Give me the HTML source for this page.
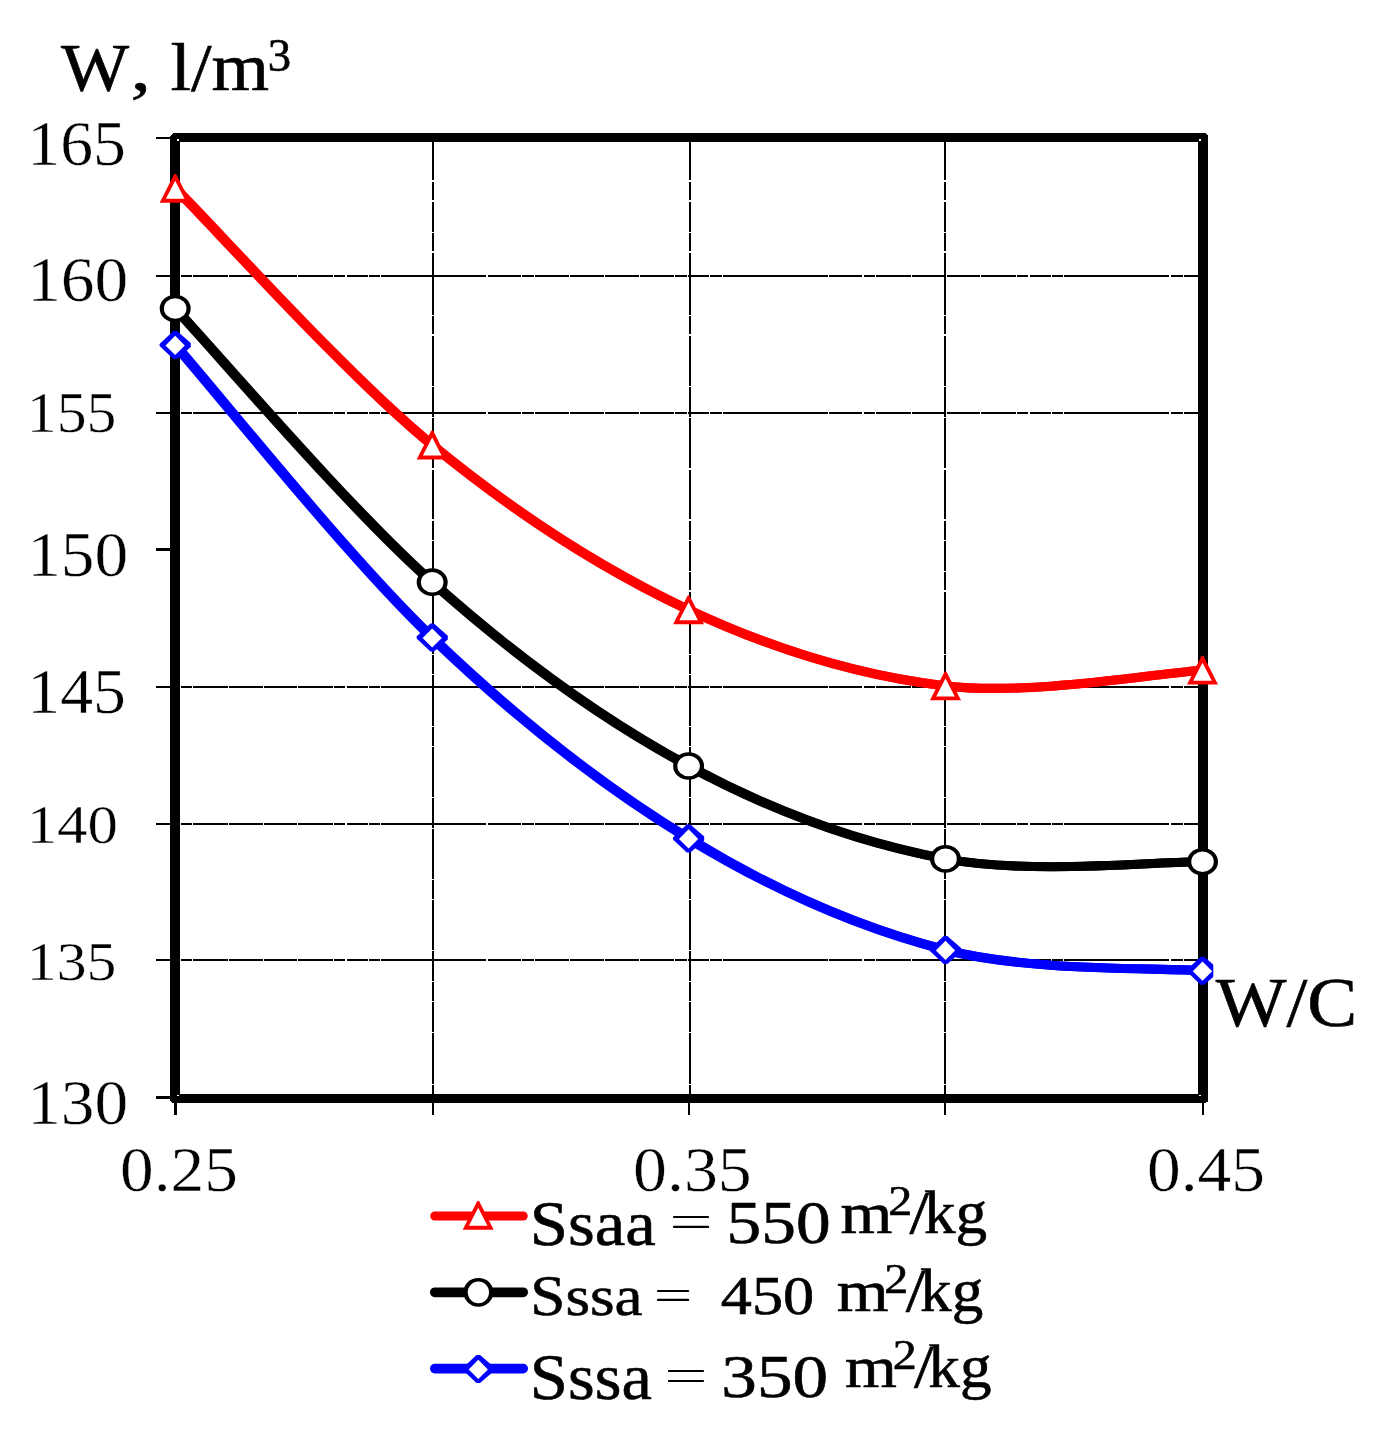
<!DOCTYPE html>
<html><head><meta charset="utf-8"><title>chart</title>
<style>html,body{margin:0;padding:0;background:#fff}body{width:1382px;height:1431px;overflow:hidden;font-family:"Liberation Serif",serif}</style>
</head><body>
<svg width="1382" height="1431" viewBox="0 0 1382 1431" style="display:block;font-family:'Liberation Serif',serif">
<rect width="1382" height="1431" fill="#fff"/>
<g stroke="#000" stroke-width="2" fill="none" shape-rendering="crispEdges">
<line x1="156" y1="1097.5" x2="172" y2="1097.5"/>
<line x1="156" y1="1097.5" x2="172" y2="1097.5" stroke-width="3"/>
<line x1="156" y1="1097.5" x2="1199" y2="1097.5" stroke-dasharray="23.4 1.2 11.5 1.2 34.2 1.2 33.8 1.2 33.5 1.2 34.2 1.2 11.5 1.2 21.1 1.2 11.4 1.2 104.9 1.2 33.4 1.2 11.5 1.2 34.2 1.2 33.8 1.2 33.5 1.2 34.2 1.2 11.5 1.2 21.1 1.2 11.4 1.2 104.9 1.2 33.4 1.2 11.5 1.2 34.2 1.2 33.8 1.2 33.5 1.2 34.2 1.2 11.5 1.2 21.1 1.2 11.4 1.2 104.9 1.2 12.4 1.2 14.9 0"/>
<line x1="156" y1="960" x2="1199" y2="960" stroke-dasharray="23.4 1.2 11.5 1.2 34.2 1.2 33.8 1.2 33.5 1.2 34.2 1.2 11.5 1.2 21.1 1.2 11.4 1.2 104.9 1.2 33.4 1.2 11.5 1.2 34.2 1.2 33.8 1.2 33.5 1.2 34.2 1.2 11.5 1.2 21.1 1.2 11.4 1.2 104.9 1.2 33.4 1.2 11.5 1.2 34.2 1.2 33.8 1.2 33.5 1.2 34.2 1.2 11.5 1.2 21.1 1.2 11.4 1.2 104.9 1.2 12.4 1.2 14.9 0"/>
<line x1="156" y1="824" x2="1199" y2="824" stroke-dasharray="23.4 1.2 11.5 1.2 34.2 1.2 33.8 1.2 33.5 1.2 34.2 1.2 11.5 1.2 21.1 1.2 11.4 1.2 104.9 1.2 33.4 1.2 11.5 1.2 34.2 1.2 33.8 1.2 33.5 1.2 34.2 1.2 11.5 1.2 21.1 1.2 11.4 1.2 104.9 1.2 33.4 1.2 11.5 1.2 34.2 1.2 33.8 1.2 33.5 1.2 34.2 1.2 11.5 1.2 21.1 1.2 11.4 1.2 104.9 1.2 12.4 1.2 14.9 0"/>
<line x1="156" y1="687" x2="1199" y2="687" stroke-dasharray="23.4 1.2 11.5 1.2 34.2 1.2 33.8 1.2 33.5 1.2 34.2 1.2 11.5 1.2 21.1 1.2 11.4 1.2 104.9 1.2 33.4 1.2 11.5 1.2 34.2 1.2 33.8 1.2 33.5 1.2 34.2 1.2 11.5 1.2 21.1 1.2 11.4 1.2 104.9 1.2 33.4 1.2 11.5 1.2 34.2 1.2 33.8 1.2 33.5 1.2 34.2 1.2 11.5 1.2 21.1 1.2 11.4 1.2 104.9 1.2 12.4 1.2 14.9 0"/>
<line x1="156" y1="549.5" x2="172" y2="549.5" stroke-width="3"/>
<line x1="156" y1="413" x2="1199" y2="413" stroke-dasharray="23.4 1.2 11.5 1.2 34.2 1.2 33.8 1.2 33.5 1.2 34.2 1.2 11.5 1.2 21.1 1.2 11.4 1.2 104.9 1.2 33.4 1.2 11.5 1.2 34.2 1.2 33.8 1.2 33.5 1.2 34.2 1.2 11.5 1.2 21.1 1.2 11.4 1.2 104.9 1.2 33.4 1.2 11.5 1.2 34.2 1.2 33.8 1.2 33.5 1.2 34.2 1.2 11.5 1.2 21.1 1.2 11.4 1.2 104.9 1.2 12.4 1.2 14.9 0"/>
<line x1="156" y1="276" x2="1199" y2="276" stroke-dasharray="23.4 1.2 11.5 1.2 34.2 1.2 33.8 1.2 33.5 1.2 34.2 1.2 11.5 1.2 21.1 1.2 11.4 1.2 104.9 1.2 33.4 1.2 11.5 1.2 34.2 1.2 33.8 1.2 33.5 1.2 34.2 1.2 11.5 1.2 21.1 1.2 11.4 1.2 104.9 1.2 33.4 1.2 11.5 1.2 34.2 1.2 33.8 1.2 33.5 1.2 34.2 1.2 11.5 1.2 21.1 1.2 11.4 1.2 104.9 1.2 12.4 1.2 14.9 0"/>
<line x1="156" y1="138" x2="172" y2="138"/>
<line x1="156" y1="138" x2="1199" y2="138" stroke-dasharray="23.4 1.2 11.5 1.2 34.2 1.2 33.8 1.2 33.5 1.2 34.2 1.2 11.5 1.2 21.1 1.2 11.4 1.2 104.9 1.2 33.4 1.2 11.5 1.2 34.2 1.2 33.8 1.2 33.5 1.2 34.2 1.2 11.5 1.2 21.1 1.2 11.4 1.2 104.9 1.2 33.4 1.2 11.5 1.2 34.2 1.2 33.8 1.2 33.5 1.2 34.2 1.2 11.5 1.2 21.1 1.2 11.4 1.2 104.9 1.2 12.4 1.2 14.9 0"/>
<line x1="175.5" y1="1100" x2="175.5" y2="1115" stroke-width="3"/>
<line x1="433" y1="141" x2="433" y2="1115" stroke-dasharray="39.4 1.2 18.8 1.2 29.9 1.2 18.6 1.2 62.4 1.2 18.3 1.2 50.2 1.2 29.9 1.2 50.3 1.2 49.7 1.2 19.1 1.2 30.1 1.2 18.3 1.2 62.4 1.2 18.9 1.2 50.2 1.2 19.3 1.2 49.7 1.2 29.9 1.2 49.3 1.2 18.8 1.2 50.2 1.2 30.1 1.2 18.5 1.2 30.0 1.2 50.6 1.2 29.9 0"/>
<line x1="690" y1="141" x2="690" y2="1098" stroke-dasharray="39.4 1.2 18.8 1.2 29.9 1.2 18.6 1.2 62.4 1.2 18.3 1.2 50.2 1.2 29.9 1.2 50.3 1.2 49.7 1.2 19.1 1.2 30.1 1.2 18.3 1.2 62.4 1.2 18.9 1.2 50.2 1.2 19.3 1.2 49.7 1.2 29.9 1.2 49.3 1.2 18.8 1.2 50.2 1.2 30.1 1.2 18.5 1.2 30.0 1.2 50.6 1.2 29.9 0"/>
<line x1="689" y1="1098" x2="689" y2="1115"/>
<line x1="945" y1="141" x2="945" y2="1115" stroke-dasharray="39.4 1.2 18.8 1.2 29.9 1.2 18.6 1.2 62.4 1.2 18.3 1.2 50.2 1.2 29.9 1.2 50.3 1.2 49.7 1.2 19.1 1.2 30.1 1.2 18.3 1.2 62.4 1.2 18.9 1.2 50.2 1.2 19.3 1.2 49.7 1.2 29.9 1.2 49.3 1.2 18.8 1.2 50.2 1.2 30.1 1.2 18.5 1.2 30.0 1.2 50.6 1.2 29.9 0"/>
<line x1="1203" y1="1100" x2="1203" y2="1115"/>
</g>
<g fill="#000" shape-rendering="crispEdges">
<rect x="170.0" y="134.0" width="10.0" height="968.0"/>
<rect x="1197.8" y="134.0" width="10.2" height="968.0"/>
<rect x="172.0" y="133.0" width="1034.0" height="9.0"/>
<rect x="172.0" y="1094.0" width="1034.0" height="9.0"/>
</g>
<g fill="#fff" shape-rendering="crispEdges">
<path d="M170,133 L173,133 L170,136 Z"/><path d="M1208,133 L1205.5,133 L1208,135.5 Z"/>
<path d="M170,1103 L172.5,1103 L170,1100.5 Z"/><path d="M1208,1103 L1206,1103 L1208,1101 Z"/>
<rect x="177" y="139" width="2" height="2"/><rect x="1199" y="139" width="2" height="2"/>
<rect x="177" y="1095" width="2" height="1"/><rect x="1199" y="1095" width="2" height="1"/>
</g>
<defs><clipPath id="cpR"><rect x="0" y="0" width="1213.3" height="1431"/></clipPath></defs>
<path d="M175.2,345.0 C218.0,393.8 346.6,555.4 432.2,637.6 C517.8,719.9 603.1,786.4 688.6,838.5 C774.1,890.6 859.9,928.0 945.5,950.0 C1031.2,972.0 1159.7,967.3 1202.5,970.8" transform="translate(-0.7,0)" fill="none" stroke="#0000ff" stroke-width="9.1" stroke-linecap="round" stroke-linejoin="round"/>
<path d="M175.2,345.0 C218.0,393.8 346.6,555.4 432.2,637.6 C517.8,719.9 603.1,786.4 688.6,838.5 C774.1,890.6 859.9,928.0 945.5,950.0 C1031.2,972.0 1159.7,967.3 1202.5,970.8" transform="translate(0.7,0)" fill="none" stroke="#0000ff" stroke-width="9.1" stroke-linecap="round" stroke-linejoin="round"/>
<g><path d="M173.4,331.1 L177.0,331.1 L190.8,343.1 L190.8,346.9 L177.0,358.9 L173.4,358.9 L159.6,346.0 L159.6,344.0 Z" fill="#0000ff"/><path d="M175.2,335.8 L184.8,345.4 L175.2,355.0 L165.5,345.4 Z" fill="#fff"/></g>
<g><path d="M430.4,623.6 L434.0,623.6 L447.8,635.7 L447.8,639.5 L434.0,651.6 L430.4,651.6 L416.6,638.6 L416.6,636.6 Z" fill="#0000ff"/><path d="M432.2,628.4 L441.8,638.0 L432.2,647.6 L422.6,638.0 Z" fill="#fff"/></g>
<g><path d="M686.8,824.5 L690.4,824.5 L704.2,836.6 L704.2,840.4 L690.4,852.5 L686.8,852.5 L673.0,839.5 L673.0,837.5 Z" fill="#0000ff"/><path d="M688.6,829.2 L698.2,838.9 L688.6,848.5 L679.0,838.9 Z" fill="#fff"/></g>
<g><path d="M943.7,936.0 L947.3,936.0 L961.1,948.1 L961.1,951.9 L947.3,964.0 L943.7,964.0 L929.9,951.0 L929.9,949.0 Z" fill="#0000ff"/><path d="M945.5,940.8 L955.1,950.4 L945.5,960.0 L935.9,950.4 Z" fill="#fff"/></g>
<g clip-path="url(#cpR)"><path d="M1200.7,956.8 L1204.3,956.8 L1218.1,968.9 L1218.1,972.7 L1204.3,984.8 L1200.7,984.8 L1186.9,971.8 L1186.9,969.8 Z" fill="#0000ff"/><path d="M1202.5,961.5 L1212.2,971.2 L1202.5,980.8 L1192.8,971.2 Z" fill="#fff"/></g>
<path d="M175.2,308.5 C218.0,354.1 346.6,506.0 432.2,582.2 C517.8,658.5 603.1,719.9 688.6,766.0 C774.1,812.1 859.9,842.9 945.5,858.9 C1031.2,874.9 1159.7,861.3 1202.5,861.8" transform="translate(-0.7,0)" fill="none" stroke="#000000" stroke-width="9.1" stroke-linecap="round" stroke-linejoin="round"/>
<path d="M175.2,308.5 C218.0,354.1 346.6,506.0 432.2,582.2 C517.8,658.5 603.1,719.9 688.6,766.0 C774.1,812.1 859.9,842.9 945.5,858.9 C1031.2,874.9 1159.7,861.3 1202.5,861.8" transform="translate(0.7,0)" fill="none" stroke="#000000" stroke-width="9.1" stroke-linecap="round" stroke-linejoin="round"/>
<ellipse cx="175.2" cy="308.5" rx="15.5" ry="13.85" fill="#000000"/><ellipse cx="175.2" cy="308.5" rx="11.25" ry="10.30" fill="#fff"/>
<ellipse cx="432.2" cy="582.2" rx="15.5" ry="13.85" fill="#000000"/><ellipse cx="432.2" cy="582.2" rx="11.25" ry="10.30" fill="#fff"/>
<ellipse cx="688.6" cy="766.0" rx="15.5" ry="13.85" fill="#000000"/><ellipse cx="688.6" cy="766.0" rx="11.25" ry="10.30" fill="#fff"/>
<ellipse cx="945.5" cy="858.9" rx="15.5" ry="13.85" fill="#000000"/><ellipse cx="945.5" cy="858.9" rx="11.25" ry="10.30" fill="#fff"/>
<ellipse cx="1202.5" cy="861.8" rx="15.5" ry="13.85" fill="#000000"/><ellipse cx="1202.5" cy="861.8" rx="11.25" ry="10.30" fill="#fff"/>
<path d="M175.2,188.3 C218.0,231.1 346.6,374.8 432.2,445.0 C517.8,515.2 603.1,569.6 688.6,609.8 C774.1,649.9 859.9,675.8 945.5,685.9 C1031.2,696.0 1159.7,672.8 1202.5,670.2" transform="translate(-0.7,0)" fill="none" stroke="#ff0000" stroke-width="9.1" stroke-linecap="round" stroke-linejoin="round"/>
<path d="M175.2,188.3 C218.0,231.1 346.6,374.8 432.2,445.0 C517.8,515.2 603.1,569.6 688.6,609.8 C774.1,649.9 859.9,675.8 945.5,685.9 C1031.2,696.0 1159.7,672.8 1202.5,670.2" transform="translate(0.7,0)" fill="none" stroke="#ff0000" stroke-width="9.1" stroke-linecap="round" stroke-linejoin="round"/>
<path d="M174.3,173.9 L176.1,173.9 L190.7,202.7 L159.7,202.7 Z" fill="#ff0000"/><path d="M175.2,180.8 L184.5,198.8 L165.9,198.8 Z" fill="#fff"/>
<path d="M431.3,430.6 L433.1,430.6 L447.7,459.4 L416.7,459.4 Z" fill="#ff0000"/><path d="M432.2,437.5 L441.5,455.5 L422.9,455.5 Z" fill="#fff"/>
<path d="M687.7,595.4 L689.5,595.4 L704.1,624.2 L673.1,624.2 Z" fill="#ff0000"/><path d="M688.6,602.3 L697.9,620.3 L679.3,620.3 Z" fill="#fff"/>
<path d="M944.6,671.5 L946.4,671.5 L961.0,700.3 L930.0,700.3 Z" fill="#ff0000"/><path d="M945.5,678.4 L954.8,696.4 L936.2,696.4 Z" fill="#fff"/>
<path d="M1201.6,655.8 L1203.4,655.8 L1218.0,684.6 L1187.0,684.6 Z" fill="#ff0000"/><path d="M1202.5,662.7 L1211.8,680.7 L1193.2,680.7 Z" fill="#fff"/>
<g style="opacity:0.999">
<text transform="translate(60.90,90.20) scale(1.0707,1)" font-size="67.48" fill="#000" stroke="#000" stroke-width="0.6">W</text>
<text transform="translate(130.62,90.40) scale(1.2360,1)" font-size="66.34" fill="#000" stroke="#000" stroke-width="0.6">,</text>
<text transform="translate(170.42,90.40) scale(1.1023,1)" font-size="67.19" fill="#000" stroke="#000" stroke-width="0.6">l/m</text>
<text transform="translate(267.78,70.50) scale(1.0264,1)" font-size="45.58" fill="#000" stroke="#000" stroke-width="0.6">3</text>
<text transform="translate(27.35,165.00) scale(1.0391,1)" font-size="63.25" fill="#000" stroke="#fff" stroke-width="0.4">165</text>
<text transform="translate(27.21,300.60) scale(1.0714,1)" font-size="62.86" fill="#000" stroke="#fff" stroke-width="0.4">160</text>
<text transform="translate(26.77,431.80) scale(1.0600,1)" font-size="56.36" fill="#000" stroke="#fff" stroke-width="0.4">155</text>
<text transform="translate(27.21,575.50) scale(1.0714,1)" font-size="62.86" fill="#000" stroke="#fff" stroke-width="0.4">150</text>
<text transform="translate(27.35,712.50) scale(1.0377,1)" font-size="63.33" fill="#000" stroke="#fff" stroke-width="0.4">145</text>
<text transform="translate(26.68,842.60) scale(1.1047,1)" font-size="55.04" fill="#000" stroke="#fff" stroke-width="0.4">140</text>
<text transform="translate(26.77,980.00) scale(1.0698,1)" font-size="55.85" fill="#000" stroke="#fff" stroke-width="0.4">135</text>
<text transform="translate(27.21,1123.70) scale(1.0663,1)" font-size="63.16" fill="#000" stroke="#fff" stroke-width="0.4">130</text>
<text transform="translate(120.08,1190.50) scale(1.0779,1)" font-size="62.41" fill="#000" stroke="#fff" stroke-width="0.4">0.25</text>
<text transform="translate(633.06,1190.50) scale(1.0865,1)" font-size="62.41" fill="#000" stroke="#fff" stroke-width="0.4">0.35</text>
<text transform="translate(1146.97,1190.50) scale(1.0817,1)" font-size="62.41" fill="#000" stroke="#fff" stroke-width="0.4">0.45</text>
<text transform="translate(1215.80,1026.40) scale(1.0737,1)" font-size="69.74" fill="#000" stroke="#000" stroke-width="0.6">W/C</text>
<line x1="434.8" y1="1216.0" x2="523.2" y2="1216.0" stroke="#ff0000" stroke-width="9.1" stroke-linecap="round"/>
<path d="M477.3,1200.9 L479.1,1200.9 L493.7,1229.7 L462.7,1229.7 Z" fill="#ff0000"/><path d="M478.2,1207.8 L487.5,1225.8 L468.9,1225.8 Z" fill="#fff"/>
<line x1="434.8" y1="1292.3" x2="523.2" y2="1292.3" stroke="#000000" stroke-width="9.7" stroke-linecap="round"/>
<ellipse cx="478.4" cy="1292.3" rx="14.9" ry="14.4" fill="#000000"/><ellipse cx="478.4" cy="1292.3" rx="10.65" ry="10.85" fill="#fff"/>
<line x1="434.8" y1="1368.6" x2="523.2" y2="1368.6" stroke="#0000ff" stroke-width="9.7" stroke-linecap="round"/>
<g><path d="M476.5,1355.0 L480.1,1355.0 L493.9,1367.1 L493.9,1370.9 L480.1,1383.0 L476.5,1383.0 L462.7,1370.0 L462.7,1368.0 Z" fill="#0000ff"/><path d="M478.3,1359.8 L487.9,1369.4 L478.3,1379.1 L468.7,1369.4 Z" fill="#fff"/></g>
<text transform="translate(529.86,1244.50) scale(1.0693,1)" font-size="64.30" fill="#000" stroke="#000" stroke-width="0.6">Ssaa</text>
<rect x="672.9" y="1215.9" width="36.2" height="2.2" rx="1" fill="#000"/><rect x="672.9" y="1225.8" width="36.2" height="2.3" rx="1" fill="#000"/>
<text transform="translate(726.61,1243.40) scale(1.1394,1)" font-size="60.90" fill="#000" stroke="#000" stroke-width="0.6">550</text>
<text transform="translate(530.23,1314.60) scale(1.1108,1)" font-size="56.91" fill="#000" stroke="#000" stroke-width="0.6">Sssa</text>
<rect x="656.9" y="1289.9" width="32.3" height="2.2" rx="1" fill="#000"/><rect x="656.9" y="1298.8" width="32.3" height="2.3" rx="1" fill="#000"/>
<text transform="translate(720.85,1313.60) scale(1.1342,1)" font-size="54.89" fill="#000" stroke="#000" stroke-width="0.6">450</text>
<text transform="translate(529.87,1398.70) scale(1.0476,1)" font-size="65.51" fill="#000" stroke="#000" stroke-width="0.6">Sssa</text>
<rect x="667.9" y="1369.9" width="36.2" height="2.1" rx="1" fill="#000"/><rect x="667.9" y="1380.0" width="36.2" height="2.1" rx="1" fill="#000"/>
<text transform="translate(721.32,1397.30) scale(1.1583,1)" font-size="61.50" fill="#000" stroke="#000" stroke-width="0.6">350</text>
<g transform="translate(0.0,0.0)"><text transform="translate(840.57,1232.90) scale(1.1231,1)" font-size="59.36" fill="#000" stroke="#000" stroke-width="0.6">m</text><text transform="translate(888.24,1214.80) scale(1.1522,1)" font-size="41.66" fill="#000" stroke="#000" stroke-width="0.6">2</text><text transform="translate(909.60,1232.90) scale(1.1312,1)" font-size="62.12" fill="#000" stroke="#000" stroke-width="0.6">/</text><text transform="translate(923.94,1232.90) scale(1.0463,1)" font-size="60.43" fill="#000" stroke="#000" stroke-width="0.6">kg</text></g>
<g transform="translate(-3.9,78.1)"><text transform="translate(840.57,1232.90) scale(1.1231,1)" font-size="59.36" fill="#000" stroke="#000" stroke-width="0.6">m</text><text transform="translate(888.24,1214.80) scale(1.1522,1)" font-size="41.66" fill="#000" stroke="#000" stroke-width="0.6">2</text><text transform="translate(909.60,1232.90) scale(1.1312,1)" font-size="62.12" fill="#000" stroke="#000" stroke-width="0.6">/</text><text transform="translate(923.94,1232.90) scale(1.0463,1)" font-size="60.43" fill="#000" stroke="#000" stroke-width="0.6">kg</text></g>
<g transform="translate(4.4,154.2)"><text transform="translate(840.57,1232.90) scale(1.1231,1)" font-size="59.36" fill="#000" stroke="#000" stroke-width="0.6">m</text><text transform="translate(888.24,1214.80) scale(1.1522,1)" font-size="41.66" fill="#000" stroke="#000" stroke-width="0.6">2</text><text transform="translate(909.60,1232.90) scale(1.1312,1)" font-size="62.12" fill="#000" stroke="#000" stroke-width="0.6">/</text><text transform="translate(923.94,1232.90) scale(1.0463,1)" font-size="60.43" fill="#000" stroke="#000" stroke-width="0.6">kg</text></g>
</g>
</svg>
</body></html>
